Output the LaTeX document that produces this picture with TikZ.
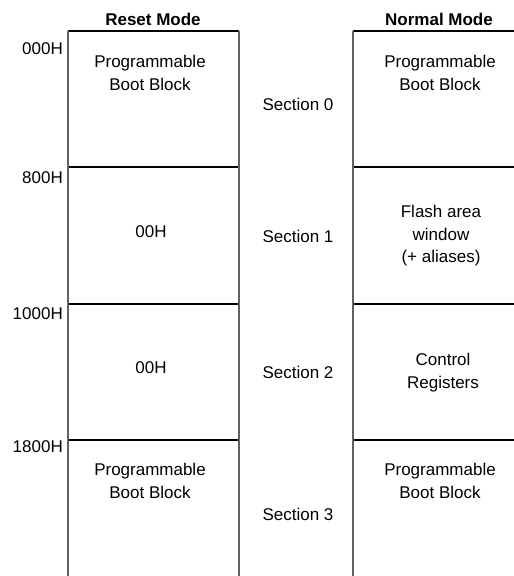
\documentclass[tikz,border=0pt]{standalone}
\usepackage{fontspec}
\setmainfont{Liberation Sans}
\begin{document}
\begin{tikzpicture}[x=1pt,y=-1pt,
  lbl/.style={inner sep=0pt, font=\fontsize{17}{22.5}\selectfont, align=center, anchor=north},
  hdr/.style={lbl, font=\fontsize{17}{22.5}\selectfont\bfseries},
  addr/.style={lbl, anchor=north east},
  vline/.style={draw=black!62, line width=1.6pt},
  hline/.style={draw=black, line width=1.2pt}]
\useasboundingbox (0,0) rectangle (514,576);
% horizontal lines
\foreach \yy in {31,167,304,440} {
  \draw[hline] (68,\yy) -- (239,\yy);
  \draw[hline] (353,\yy) -- (514,\yy);
}
% vertical lines
\draw[vline] (68,31) -- (68,576);
\draw[vline] (239,31) -- (239,576);
\draw[vline] (353,31) -- (353,576);
% headers
\node[hdr] (reset) at (153,13) {Reset Mode};
\node[hdr] (normal) at (439,13) {Normal Mode};
% addresses
\node[addr] (a0) at (63,42) {000H};
\node[addr] (a1) at (63,171) {800H};
\node[addr] (a2) at (63,307) {1000H};
\node[addr] (a3) at (63,440) {1800H};
% left column
\node[lbl] (l0) at (150,55) {Programmable\\Boot Block};
\node[lbl] (l1) at (151,225) {00H};
\node[lbl] (l2) at (151,361) {00H};
\node[lbl] (l3) at (150,463) {Programmable\\Boot Block};
% sections
\node[lbl] (s0) at (298,98) {Section 0};
\node[lbl] (s1) at (298,230) {Section 1};
\node[lbl] (s2) at (298,366) {Section 2};
\node[lbl] (s3) at (298,508) {Section 3};
% right column
\node[lbl] (r0) at (440,55) {Programmable\\Boot Block};
\node[lbl] (r1) at (441,205) {Flash area\\window\\(+ aliases)};
\node[lbl] (r2) at (443,353) {Control\\Registers};
\node[lbl] (r3) at (440,463) {Programmable\\Boot Block};
\end{tikzpicture}
\end{document}
